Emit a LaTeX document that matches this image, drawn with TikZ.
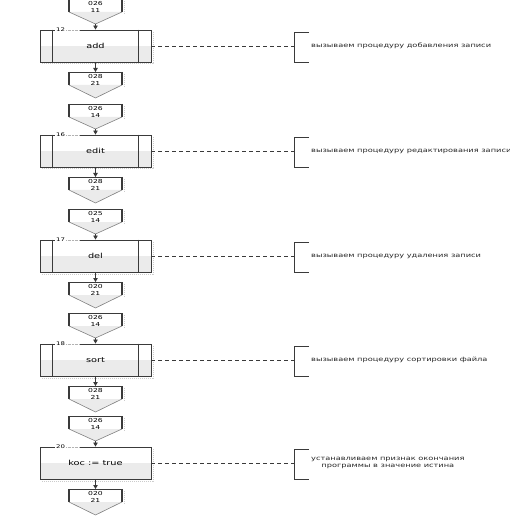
\documentclass[tikz,border=0pt]{standalone}
\usepackage{fontspec}
\newfontfamily\chartfont[FakeStretch=1.4]{DejaVu Sans}
\usetikzlibrary{arrows.meta}

\definecolor{lightfill}{HTML}{EBEBEB}
\definecolor{edge}{HTML}{3A3A3A}

\tikzset{
  procbox/.style={draw=edge, line width=0.9bp, minimum width=111bp,
    minimum height=32bp, inner sep=0pt,
    font=\chartfont\fontsize{7}{8}\selectfont,
    path picture={\fill[lightfill] (path picture bounding box.west)
      rectangle (path picture bounding box.south east);}},
  pagetext/.style={align=center, inner sep=0pt,
    font=\chartfont\fontsize{5.5}{7.5}\selectfont},
  numlbl/.style={fill=white, inner sep=1bp,
    font=\chartfont\fontsize{5}{6}\selectfont},
  cmttext/.style={align=center, inner sep=0pt, text=black!85,
    font=\chartfont\fontsize{5.9}{7.5}\selectfont},
  shadowline/.style={gray!40, densely dotted, line width=1bp},
  commentline/.style={edge, dash pattern=on 4bp off 3bp, line width=0.7bp}
}

\begin{document}
\begin{tikzpicture}[x=1bp, y=-1bp, >={Triangle[length=4bp,width=4.5bp]}]
  \useasboundingbox (0,0) rectangle (510,516);

  \foreach \i/\ytop/\num/\lbl/\inp/\outp/\cmt in {
      1/30/12/add/{026\\11}/{028\\21}/{вызываем процедуру добавления записи},
      2/135/16/edit/{026\\14}/{028\\21}/{вызываем процедуру редактирования записи},
      3/240/17/del/{025\\14}/{020\\21}/{вызываем процедуру удаления записи},
      4/344/18/sort/{026\\14}/{028\\21}/{вызываем процедуру сортировки файла},
      5/447/20/{koc := true}/{026\\14}/{020\\21}/{устанавливаем признак окончания\\программы в значение истина}} {

      \pgfmathsetmacro\ymid{\ytop+16}
      \pgfmathsetmacro\ybot{\ytop+32}

      % box
      \draw[shadowline] (153,\ytop+2) -- (153,\ybot+2) -- (42,\ybot+2);
      \node[procbox] (box\i) at (95.5,\ymid) {\lbl};
      \ifnum\i<5
        \draw[edge, line width=1.4bp] ([xshift=13bp]box\i.north west) -- ([xshift=13bp]box\i.south west);
        \draw[edge, line width=1.4bp] ([xshift=-13bp]box\i.north east) -- ([xshift=-13bp]box\i.south east);
      \fi
      \node[numlbl, anchor=west] (n\i) at (55,\ytop) {\num};
      \draw[white, line width=2bp] (n\i.east) -- (79,\ytop);
      \draw[gray!60, densely dotted] (n\i.east) -- (79,\ytop);

      % connector coming in
      \pgfmathsetmacro\ca{\ytop-31}
      \pgfmathsetmacro\cb{\ytop-18}
      \pgfmathsetmacro\cc{\ytop-6}
      \fill[lightfill] (69,\cb) -- (122,\cb) -- (95.5,\cc) -- cycle;
      \draw[shadowline] (124,\ca+2) -- (124,\cb+1);
      \draw[edge, line width=0.5bp] (69,\ca) -- (122,\ca);
      \draw[edge, line width=1.1bp] (69,\ca) -- (69,\cb);
      \draw[edge, line width=1.1bp] (122,\ca) -- (122,\cb);
      \draw[gray, line width=0.6bp] (69,\cb) -- (95.5,\cc) -- (122,\cb);
      \node[pagetext] (in\i) at (95.5,\ca+8) {\inp};
      \coordinate (tin\i) at (95.5,\cc);
      \draw[->, edge, line width=0.8bp] (tin\i) -- (box\i.north);

      % connector going out
      \pgfmathsetmacro\da{\ybot+10}
      \pgfmathsetmacro\db{\ybot+23}
      \pgfmathsetmacro\dc{\ybot+36}
      \fill[lightfill] (69,\db) -- (122,\db) -- (95.5,\dc) -- cycle;
      \draw[shadowline] (124,\da+2) -- (124,\db+1);
      \draw[edge, line width=0.5bp] (69,\da) -- (122,\da);
      \draw[edge, line width=1.1bp] (69,\da) -- (69,\db);
      \draw[edge, line width=1.1bp] (122,\da) -- (122,\db);
      \draw[gray, line width=0.6bp] (69,\db) -- (95.5,\dc) -- (122,\db);
      \node[pagetext] (out\i) at (95.5,\da+8) {\outp};
      \coordinate (tout\i) at (95.5,\da);
      \draw[->, edge, line width=0.8bp] (box\i.south) -- (tout\i);

      % comment
      \coordinate (br\i) at (294,\ymid);
      \draw[commentline] (box\i.east) -- (br\i);
      \draw[edge, line width=0.9bp] (309,\ytop+2) -- (294,\ytop+2) -- (294,\ybot) -- (309,\ybot);
      \node[cmttext, anchor=west] (c\i) at (311,\ymid) {\cmt};
    }
\end{tikzpicture}
\end{document}
